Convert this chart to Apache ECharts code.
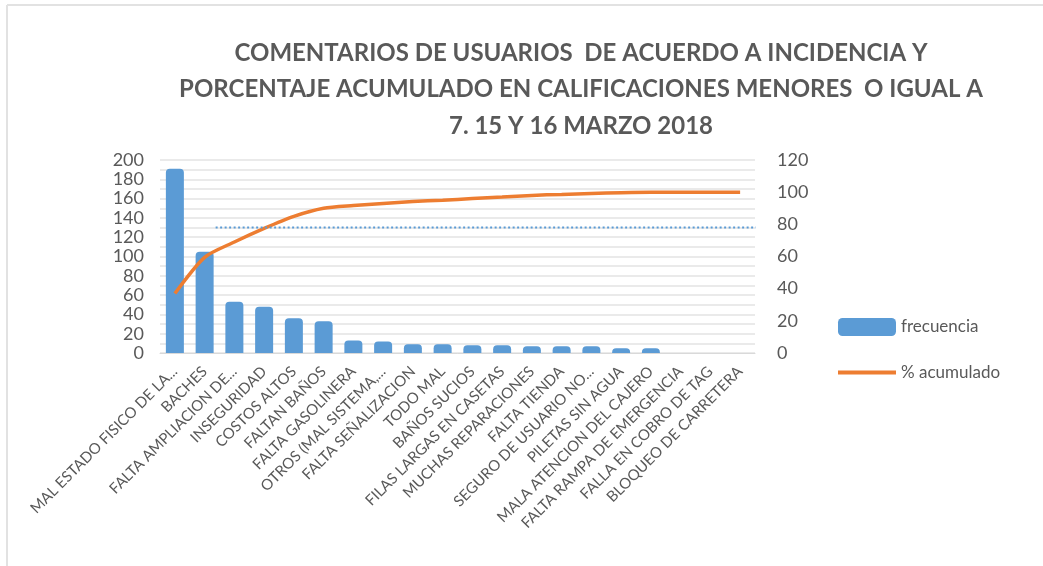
<!DOCTYPE html>
<html>
<head>
<meta charset="utf-8">
<script src="https://cdn.jsdelivr.net/npm/echarts@6/dist/echarts.min.js"></script>
<style>
    html, body { margin: 0; padding: 0; background: #fff; }
    #chart { width: 1043px; height: 566px; }
</style>
</head>
<body>
<div id="chart"></div>
<script>
    // categorias (eje x)
    var categorias = ['MAL ESTADO FISICO DE LA...', 'BACHES', 'FALTA AMPLIACION DE...', 'INSEGURIDAD', 'COSTOS ALTOS',
        'FALTAN BAÑOS', 'FALTA GASOLINERA', 'OTROS (MAL SISTEMA,...', 'FALTA SEÑALIZACION', 'TODO MAL',
        'BAÑOS SUCIOS', 'FILAS LARGAS EN CASETAS', 'MUCHAS REPARACIONES', 'FALTA TIENDA', 'SEGURO DE USUARIO NO...',
        'PILETAS SIN AGUA', 'MALA ATENCION DEL CAJERO', 'FALTA RAMPA DE EMERGENCIA', 'FALLA EN COBRO DE TAG', 'BLOQUEO DE CARRETERA'];
    // frecuencia (barras, eje izquierdo)
    var frecuencia = [191, 105, 53, 48, 36, 33, 13, 12, 9, 9, 8, 8, 7, 7, 7, 5, 5, 0, 0, 0];
    // % acumulado (linea, eje derecho)
    var acumulado = [37, 59.5, 69, 77.5, 85, 90, 91.7, 93, 94.2, 95, 96, 97, 98, 98.6, 99.2, 99.7, 100, 100, 100, 100];
    // linea punteada del 80/20: valor y tramo (en indices de categoria)
    var umbral = 78;
    var umbralDesde = 1.37;
    var umbralHasta = 20.2;
    var ticksIzq = [0, 200, 20];
    var ticksDer = [0, 120, 20];

    var gris = '#595959';
    var fuente = 'Lato';

    var chart = echarts.init(document.getElementById('chart'));
    var option = {
        backgroundColor: '#fff',
        animation: false,
        title: {
            text: 'COMENTARIOS DE USUARIOS  DE ACUERDO A INCIDENCIA Y\nPORCENTAJE ACUMULADO EN CALIFICACIONES MENORES  O IGUAL A\n7. 15 Y 16 MARZO 2018',
            left: 576,
            top: 30,
            textAlign: 'center',
            textStyle: {
                fontFamily: fuente,
                fontSize: 24,
                fontWeight: 'bold',
                color: gris,
                lineHeight: 36.5
            }
        },
        legend: {
            orient: 'vertical',
            left: 831,
            top: 313,
            itemWidth: 58,
            itemHeight: 18,
            itemGap: 28,
            textStyle: { fontFamily: fuente, fontSize: 17, color: gris },
            data: [
                { name: 'frecuencia' },
                { name: '% acumulado', itemStyle: { opacity: 0 }, lineStyle: { width: 4 } }
            ]
        },
        graphic: [
            { type: 'line', shape: { x1: 7, y1: 5, x2: 1043, y2: 5 }, style: { stroke: '#e2e2e2', lineWidth: 2 } },
            { type: 'line', shape: { x1: 7, y1: 5, x2: 7, y2: 566 }, style: { stroke: '#e2e2e2', lineWidth: 2 } }
        ],
        grid: {
            left: 160,
            right: 288,
            top: 160,
            bottom: 213
        },
        xAxis: [
            {
                type: 'category',
                data: categorias,
                axisLine: { show: true, lineStyle: { color: '#d9d9d9' } },
                axisTick: { show: false },
                axisLabel: {
                    interval: 0,
                    rotate: 45,
                    margin: 16,
                    fontFamily: fuente,
                    fontSize: 15,
                    color: gris
                }
            },
            {
                // eje auxiliar para la linea punteada
                type: 'value',
                show: false,
                min: -0.5,
                max: categorias.length - 0.5
            }
        ],
        yAxis: [
            {
                type: 'value',
                min: ticksIzq[0],
                max: ticksIzq[1],
                interval: ticksIzq[2],
                axisLine: { show: false, onZero: false },
                axisTick: { show: false },
                axisLabel: { fontFamily: fuente, fontSize: 18, color: gris, margin: 16 },
                splitLine: { lineStyle: { color: '#e3e3e3', width: 1.5 } },
                minorTick: { show: false, splitNumber: 2 },
                minorSplitLine: { show: true, lineStyle: { color: '#e3e3e3', width: 1.5 } }
            },
            {
                type: 'value',
                min: ticksDer[0],
                max: ticksDer[1],
                interval: ticksDer[2],
                axisLine: { show: false, onZero: false },
                axisTick: { show: false },
                axisLabel: { fontFamily: fuente, fontSize: 18, color: gris, margin: 22 },
                splitLine: { show: false }
            }
        ],
        series: [
            {
                name: 'frecuencia',
                type: 'bar',
                yAxisIndex: 0,
                barWidth: 18,
                itemStyle: { color: '#5b9bd5', borderRadius: [4, 4, 0, 0] },
                data: frecuencia
            },
            {
                name: '% acumulado',
                type: 'line',
                yAxisIndex: 1,
                symbol: 'none',
                smooth: 0.25,
                lineStyle: { color: '#ed7d31', width: 3.5 },
                itemStyle: { color: '#ed7d31' },
                data: acumulado
            },
            {
                name: 'umbral',
                type: 'line',
                xAxisIndex: 1,
                yAxisIndex: 1,
                symbol: 'none',
                clip: false,
                silent: true,
                lineStyle: { color: '#5b9bd5', type: [2, 2.5], width: 2 },
                data: [[umbralDesde, umbral], [umbralHasta, umbral]]
            }
        ]
    };
    chart.setOption(option);
</script>
</body>
</html>
